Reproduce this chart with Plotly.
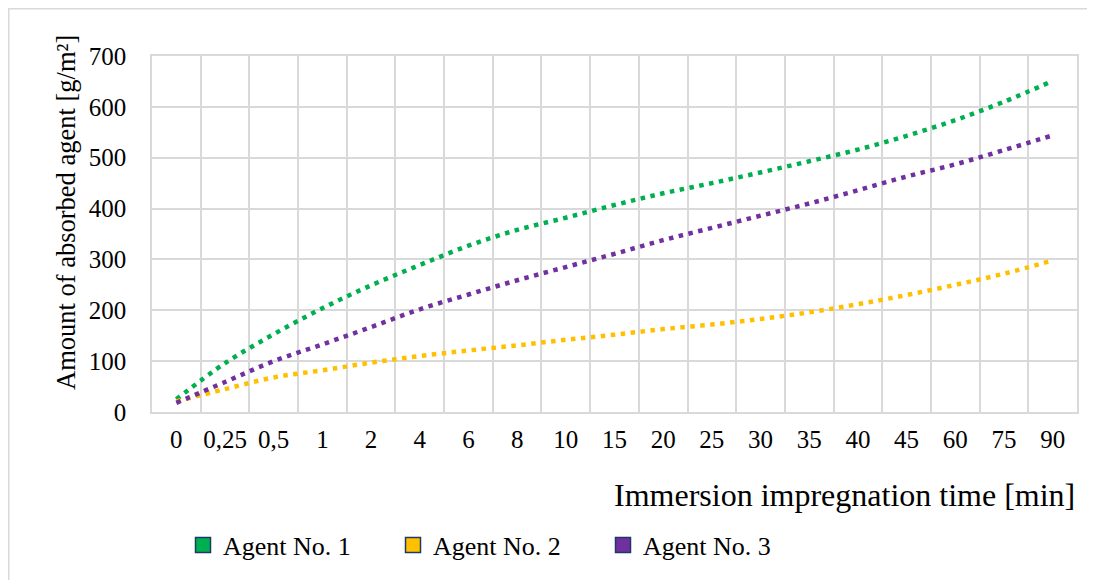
import plotly.graph_objects as go

categories = ["0", "0,25", "0,5", "1", "2", "4", "6", "8", "10", "15", "20",
              "25", "30", "35", "40", "45", "60", "75", "90"]
agent1 = [25, 96, 153, 204, 249, 289, 327, 358, 382, 407, 430, 450, 471, 493, 516, 543, 574, 610, 651]
agent2 = [21, 45, 68, 82, 97, 110, 121, 131, 142, 152, 163, 172, 183, 196, 212, 230, 250, 272, 298]
agent3 = [18, 59, 100, 133, 167, 202, 231, 259, 285, 311, 338, 362, 386, 410, 436, 463, 487, 515, 544]

series_names = ["Agent No. 1", "Agent No. 2", "Agent No. 3"]
series_values = [agent1, agent2, agent3]
colors = ["#00B050", "#FFC000", "#7030A0"]

FONT = "Liberation Serif"
OFF = 8  # page body margin offset
W, H = 1095 - OFF, 580 - OFF
L, R, T, B = 152 - OFF, 1077 - OFF, 56 - OFF, 412 - OFF
pw, ph = R - L, B - T

def px_x(p):
    return (p - OFF - L) / pw

def px_y(p):
    return (B - (p - OFF)) / ph

fig = go.Figure()
for name, vals, col in zip(series_names, series_values, colors):
    fig.add_trace(go.Scatter(
        x=categories, y=vals, mode="lines", name=name, showlegend=False,
        line=dict(color=col, width=4.5, dash="4.5px,5.5px", shape="spline", smoothing=1),
    ))
for name, col in zip(series_names, colors):
    fig.add_trace(go.Scatter(
        x=[None], y=[None], mode="markers", name=name, showlegend=True,
        marker=dict(symbol="square", size=15, color=col, line=dict(color="#1F3864", width=1.5)),
    ))

fig.update_layout(
    width=W, height=H,
    margin=dict(l=L, r=W - R, t=T, b=H - B, pad=0),
    paper_bgcolor="white", plot_bgcolor="white",
    font=dict(family=FONT, size=25, color="#000000"),
    showlegend=True,
    legend=dict(orientation="h", x=px_x(183), y=px_y(545), xanchor="left", yanchor="middle",
                font=dict(family=FONT, size=26, color="#000000"), entrywidth=165, entrywidthmode="pixels",
                itemwidth=30, bgcolor="rgba(0,0,0,0)"),
    xaxis=dict(type="category", categoryorder="array", categoryarray=categories,
               range=[-0.5, len(categories) - 0.5],
               showgrid=True, gridcolor="#D9D9D9", gridwidth=1.5, tickson="boundaries",
               ticks="", showline=True, linecolor="#D9D9D9", linewidth=1.5, mirror=True,
               tickangle=0,
               tickfont=dict(family=FONT, size=25, color="#000000"), ticklabelstandoff=4, zeroline=False),
    yaxis=dict(range=[0, 700], dtick=100, tick0=0,
               showgrid=True, gridcolor="#D9D9D9", gridwidth=1.5,
               ticks="", showline=True, linecolor="#D9D9D9", linewidth=1.5, mirror=True,
               tickfont=dict(family=FONT, size=25, color="#000000"), ticklabelstandoff=19, zeroline=False),
    annotations=[
        dict(text="Amount of absorbed agent [g/m²]", xref="paper", yref="paper",
             x=px_x(66), y=px_y(213), textangle=-90, showarrow=False,
             xanchor="center", yanchor="middle", font=dict(family=FONT, size=26.5, color="#000000")),
        dict(text="Immersion impregnation time [min]", xref="paper", yref="paper",
             x=px_x(1077), y=px_y(495), showarrow=False,
             xanchor="right", yanchor="middle", font=dict(family=FONT, size=32, color="#000000")),
    ],
    shapes=[
        dict(type="rect", xref="paper", yref="paper",
             x0=px_x(8.75), x1=px_x(1100), y0=px_y(590), y1=px_y(8.75),
             line=dict(color="#D9D9D9", width=1.5), fillcolor="rgba(0,0,0,0)", layer="below"),
    ],
)

fig.write_html("out.html")
